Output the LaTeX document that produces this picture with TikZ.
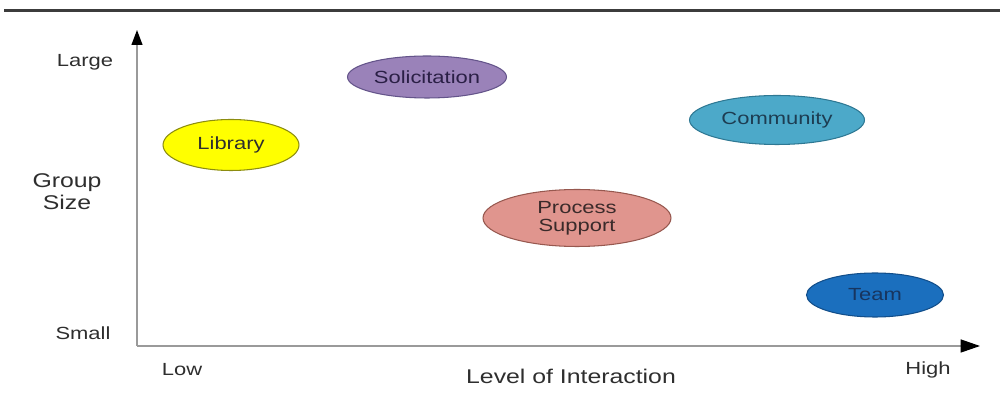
\documentclass[tikz,border=0pt]{standalone}
\usepackage{fontspec}
\setmainfont{Liberation Sans}[FakeStretch=1.25]
\usetikzlibrary{shapes.geometric,arrows.meta}
\definecolor{txt}{HTML}{2E2E2E}
\definecolor{axisgray}{HTML}{9A9A9A}
\definecolor{topline}{HTML}{3C3C3C}
\definecolor{libfill}{HTML}{FFFF00}\definecolor{libdraw}{HTML}{8C8C10}
\definecolor{solfill}{HTML}{9A82B9}\definecolor{soldraw}{HTML}{64548A}\definecolor{soltxt}{HTML}{2A1F45}
\definecolor{comfill}{HTML}{4CA9C9}\definecolor{comdraw}{HTML}{2E7893}\definecolor{comtxt}{HTML}{1D3D52}
\definecolor{prfill}{HTML}{E0958E}\definecolor{prdraw}{HTML}{97584F}\definecolor{prtxt}{HTML}{3A2A2A}
\definecolor{teamfill}{HTML}{1B6FBE}\definecolor{teamdraw}{HTML}{124E8A}\definecolor{teamtxt}{HTML}{17355F}
\tikzset{
  blob/.style={ellipse, inner sep=0pt, line width=0.6pt, font=\fontsize{10}{12}\selectfont, align=center},
  tick/.style={text=txt, font=\fontsize{10}{12}\selectfont, inner sep=0pt},
  axtitle/.style={text=txt, font=\fontsize{11.3}{12.5}\selectfont, inner sep=0pt, align=center},
  axisline/.style={draw=axisgray, line width=0.8pt},
}
\begin{document}
\begin{tikzpicture}[x=0.02cm, y=-0.02cm]
\useasboundingbox (0,0) rectangle (1000,394);
% top rule
\coordinate (tl) at (4,11);
\coordinate (tr) at (1000,11);
\draw[topline, line width=1.7pt] (tl) -- (tr);
% axes
\coordinate (O) at (137,346);
\coordinate (Ytip) at (137,30);
\coordinate (Xtip) at (980,346);
\draw[axisline, -{Triangle[color=black, length=8.5pt, width=6.2pt]}] (O) -- (Ytip);
\draw[axisline, -{Triangle[color=black, length=11pt, width=7.4pt]}] (O) -- (Xtip);
% axis labels
\node[tick] (large) at (85,62) {Large};
\node[tick] (small) at (83,333) {Small};
\node[tick] (low) at (182,370) {Low};
\node[tick] (high) at (928,370) {High};
\node[axtitle] (gs) at (67,192) {Group\\Size};
\node[axtitle] (loi) at (571,376) {Level of Interaction};
% ellipses
\node[blob, fill=solfill, draw=soldraw, text=soltxt, minimum width=3.18cm, minimum height=0.84cm] (sol) at (427,77) {Solicitation};
\node[blob, fill=libfill, draw=libdraw, text=txt, minimum width=2.72cm, minimum height=1.02cm] (lib) at (231,145) {Library};
\node[blob, fill=comfill, draw=comdraw, text=comtxt, minimum width=3.5cm, minimum height=0.98cm] (com) at (777,120) {Community};
\node[blob, fill=prfill, draw=prdraw, text=prtxt, minimum width=3.76cm, minimum height=1.14cm, font=\fontsize{10}{10.3}\selectfont] (pro) at (577,218) {Process\\Support};
\node[blob, fill=teamfill, draw=teamdraw, text=teamtxt, minimum width=2.74cm, minimum height=0.88cm] (team) at (875,295) {Team};
\end{tikzpicture}
\end{document}
